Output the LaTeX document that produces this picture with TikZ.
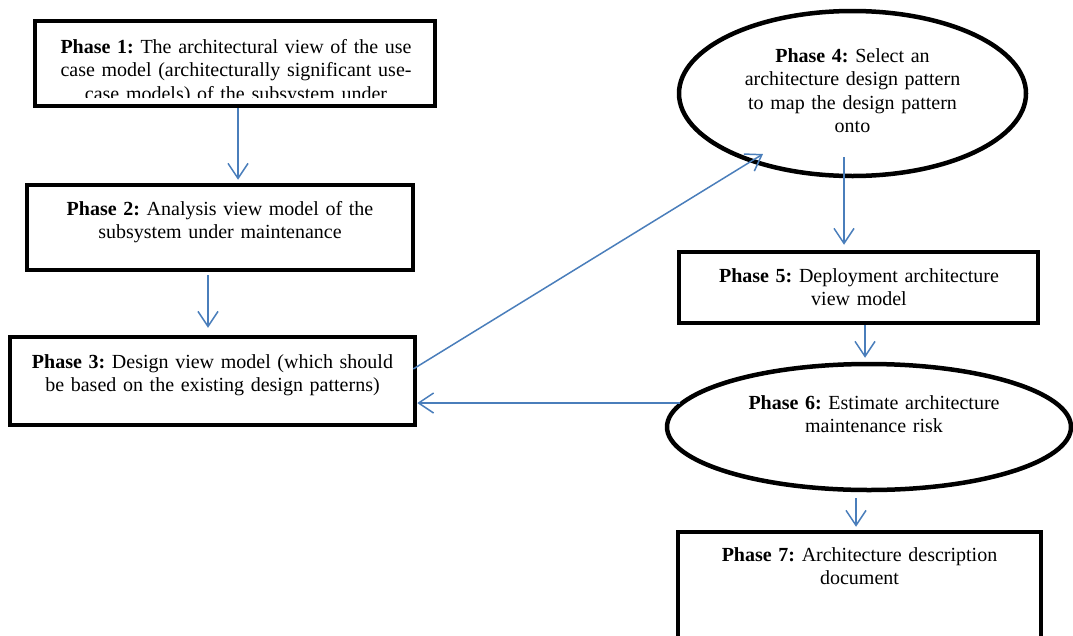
\documentclass[tikz,border=0pt]{standalone}
\usepackage{fontspec}
\setmainfont{Liberation Serif}
\usetikzlibrary{arrows.meta,shapes.geometric}
\definecolor{flowblue}{HTML}{4A7EBB}
\frenchspacing
\begin{document}
\begin{tikzpicture}[x=1pt,y=-1pt,
  phasebox/.style={draw=black,line width=4.5pt,rectangle,inner sep=0pt},
  phaseoval/.style={draw=black,line width=4.5pt,ellipse,inner sep=0pt},
  phasetext/.style={anchor=base,align=center,inner sep=0pt,
    font=\fontsize{20}{23.5}\selectfont},
  flow/.style={draw=flowblue,line width=1.5pt,
    -{Straight Barb[length=15pt,width=20pt]}}]
\useasboundingbox (0,0) rectangle (1073,635);
\clip (0,0) rectangle (1073,635);

% phase shapes
\node[phasebox,minimum width=400pt,minimum height=85pt] (p1) at (235,63.5) {};
\node[phasebox,minimum width=386pt,minimum height=85pt] (p2) at (220,227.5) {};
\node[phasebox,minimum width=405pt,minimum height=88pt] (p3) at (212.5,381) {};
\node[phaseoval,minimum width=347pt,minimum height=165pt] (p4) at (852.5,93.5) {};
\node[phasebox,minimum width=359pt,minimum height=71pt] (p5) at (858.5,287.5) {};
\node[phaseoval,minimum width=404pt,minimum height=126pt] (p6) at (869,427) {};
\node[phasebox,minimum width=363pt,minimum height=128pt] (p7) at (859.5,596) {};

% phase texts
\begin{scope}
\clip (35,21) rectangle (435,97);
\node[phasetext,text width=420pt] (t1) at (236,53)
  {\textbf{Phase 1:} The architectural view of the use\\
   case model (architecturally significant use-\\
   case models) of the subsystem under};
\end{scope}
\node[phasetext,text width=380pt] (t2) at (220,215)
  {\textbf{Phase 2:} Analysis view model of the\\subsystem under maintenance};
\node[phasetext,text width=400pt] (t3) at (212.5,368)
  {\textbf{Phase 3:} Design view model (which should\\be based on the existing design patterns)};
\node[phasetext,text width=300pt] (t4) at (852.5,62)
  {\textbf{Phase 4:} Select an\\architecture design pattern\\to map the design pattern\\onto};
\node[phasetext,text width=340pt] (t5) at (859,282)
  {\textbf{Phase 5:} Deployment architecture\\view model};
\node[phasetext,text width=340pt] (t6) at (874,409)
  {\textbf{Phase 6:} Estimate architecture\\maintenance risk};
\node[phasetext,text width=340pt] (t7) at (859.5,561)
  {\textbf{Phase 7:} Architecture description\\document};

% connectors
\draw[flow,shorten >=3pt] ([xshift=3pt]p1.south) -- ([xshift=18pt]p2.north);
\draw[flow,shorten <=3pt,shorten >=7pt] ([xshift=-12pt]p2.south) -- ([xshift=-4.5pt]p3.north);
\draw[flow] ([xshift=-4pt,yshift=12pt]p3.east) -- ([xshift=-89.5pt,yshift=-60.5pt]p4.center);
\draw[flow,shorten >=5pt] ([xshift=-8.5pt,yshift=-63.5pt]p4.center) -- ([xshift=-14.5pt]p5.north);
\draw[flow,shorten >=4pt] ([xshift=6.5pt]p5.south) -- ([xshift=-4pt]p6.north);
\draw[flow] ([xshift=15pt,yshift=24pt]p6.west) -- ([yshift=-22pt]p3.east);
\draw[flow,shorten <=6pt,shorten >=3pt] ([xshift=-13pt]p6.south) -- ([xshift=-3.5pt]p7.north);
\end{tikzpicture}
\end{document}
